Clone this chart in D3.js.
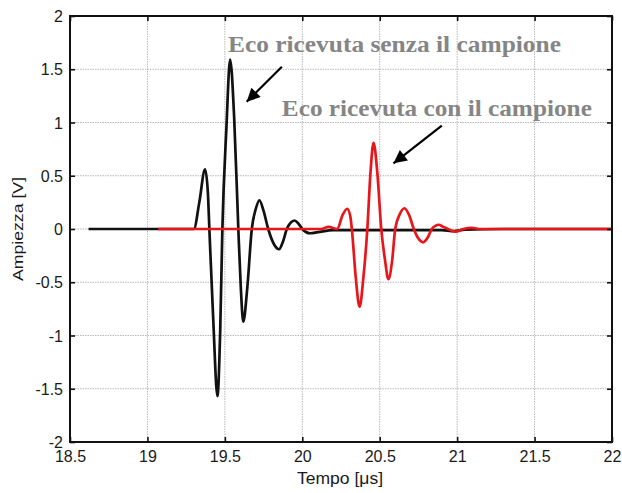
<!DOCTYPE html>
<html>
<head>
<meta charset="utf-8">
<script src="https://cdn.jsdelivr.net/npm/d3@7"></script>
<style>
  html, body { margin: 0; padding: 0; background: #fff; }
  svg { display: block; }
</style>
</head>
<body>
<svg id="chart" width="622" height="493"></svg>
<script>
// Echo waveforms: time in microseconds, amplitude in volts
const echoSenzaTime = [18.62, 19.0, 19.30, 19.335, 19.372, 19.39, 19.40, 19.425, 19.452, 19.47, 19.484, 19.51, 19.534, 19.56, 19.587, 19.603, 19.619, 19.645, 19.674, 19.70, 19.723, 19.75, 19.78, 19.82, 19.85, 19.875, 19.90, 19.925, 19.95, 19.975, 20.0, 20.05, 20.10, 20.2, 20.4, 20.7, 20.9, 20.98, 21.05, 21.3, 22.0];
const echoSenzaAmp  = [0, 0, 0, 0.25, 0.56, 0.35, 0, -0.85, -1.57, -0.95, 0, 0.95, 1.59, 1.05, 0, -0.55, -0.87, -0.55, 0, 0.19, 0.27, 0.17, 0, -0.15, -0.19, -0.12, 0, 0.06, 0.08, 0.05, 0, -0.04, -0.03, -0.01, -0.01, -0.01, -0.01, -0.02, -0.005, 0, 0];

const echoConTime = [19.07, 20.12, 20.17, 20.225, 20.26, 20.29, 20.31, 20.32, 20.345, 20.37, 20.395, 20.42, 20.44, 20.46, 20.485, 20.51, 20.535, 20.556, 20.58, 20.60, 20.63, 20.66, 20.69, 20.72, 20.75, 20.78, 20.81, 20.836, 20.86, 20.88, 20.91, 20.94, 20.99, 21.04, 21.095, 21.15, 22.0];
const echoConAmp  = [0, 0, 0.02, 0, 0.13, 0.19, 0.12, 0, -0.45, -0.73, -0.45, 0, 0.52, 0.81, 0.52, 0, -0.30, -0.47, -0.30, 0, 0.14, 0.195, 0.13, 0, -0.09, -0.125, -0.08, 0, 0.03, 0.04, 0.02, 0, -0.025, 0, 0.01, 0, 0];

const xTicks = [18.5, 19, 19.5, 20, 20.5, 21, 21.5, 22];
const yTicks = [-2, -1.5, -1, -0.5, 0, 0.5, 1, 1.5, 2];

const xLabel = "Tempo [μs]";
const yLabel = "Ampiezza [V]";
const noteSenza = "Eco ricevuta senza il campione";
const noteCon = "Eco ricevuta con il campione";

const svg = d3.select("#chart");
const plotLeft = 70, plotRight = 612, plotTop = 16, plotBottom = 442;

const x = d3.scaleLinear().domain([18.5, 22]).range([plotLeft, plotRight]);
const y = d3.scaleLinear().domain([-2, 2]).range([plotBottom, plotTop]);

// grid
const grid = svg.append("g");
grid.selectAll("line.gx").data(xTicks.slice(1, -1)).join("line")
  .attr("x1", d => x(d)).attr("x2", d => x(d))
  .attr("y1", plotTop).attr("y2", plotBottom)
  .attr("stroke", "#b8b8b8").attr("stroke-width", 1).attr("stroke-dasharray", "1.5,1");
grid.selectAll("line.gy").data(yTicks.slice(1, -1)).join("line")
  .attr("y1", d => y(d)).attr("y2", d => y(d))
  .attr("x1", plotLeft).attr("x2", plotRight)
  .attr("stroke", "#b8b8b8").attr("stroke-width", 1).attr("stroke-dasharray", "1.5,1");

// curves
const line = d3.line().curve(d3.curveMonotoneX)
  .x(d => x(d[0])).y(d => y(d[1]));

svg.append("path")
  .datum(d3.zip(echoSenzaTime, echoSenzaAmp))
  .attr("d", line)
  .attr("fill", "none").attr("stroke", "#111").attr("stroke-width", 2.7)
  .attr("stroke-linejoin", "round");

svg.append("path")
  .datum(d3.zip(echoConTime, echoConAmp))
  .attr("d", line)
  .attr("fill", "none").attr("stroke", "#e8161b").attr("stroke-width", 2.7)
  .attr("stroke-linejoin", "round");

// axes: inward ticks on all four sides
const font = "'Liberation Sans', Arial, sans-serif";
const fmt = d => String(d);
const axB = svg.append("g").attr("transform", `translate(0,${plotBottom})`)
  .call(d3.axisBottom(x).tickValues(xTicks).tickFormat(fmt).tickSizeInner(-5).tickSizeOuter(0).tickPadding(9));
const axL = svg.append("g").attr("transform", `translate(${plotLeft},0)`)
  .call(d3.axisLeft(y).tickValues(yTicks).tickFormat(fmt).tickSizeInner(-5).tickSizeOuter(0).tickPadding(7));
const axT = svg.append("g").attr("transform", `translate(0,${plotTop})`)
  .call(d3.axisTop(x).tickValues(xTicks).tickFormat("").tickSizeInner(-5).tickSizeOuter(0));
const axR = svg.append("g").attr("transform", `translate(${plotRight},0)`)
  .call(d3.axisRight(y).tickValues(yTicks).tickFormat("").tickSizeInner(-5).tickSizeOuter(0));

[axB, axL, axT, axR].forEach(a => {
  a.select(".domain").remove();
  a.selectAll(".tick line").attr("stroke", "#111").attr("stroke-width", 1.6);
  a.selectAll("text").attr("fill", "#1a1a1a").style("font-family", font).style("font-size", "16px");
});
axB.selectAll("text").attr("dy", "0.71em");
axL.selectAll("text").attr("dy", "0.35em");

svg.append("rect")
  .attr("x", plotLeft).attr("y", plotTop).attr("width", plotRight - plotLeft).attr("height", plotBottom - plotTop)
  .attr("fill", "none").attr("stroke", "#111").attr("stroke-width", 2);

// axis titles
svg.append("text")
  .attr("x", 340).attr("y", 484)
  .attr("text-anchor", "middle")
  .attr("textLength", 86).attr("lengthAdjust", "spacingAndGlyphs")
  .style("font-family", font).style("font-size", "16px").attr("fill", "#1a1a1a")
  .text(xLabel);
svg.append("text")
  .attr("transform", `translate(23,229) rotate(-90)`)
  .attr("text-anchor", "middle")
  .attr("textLength", 104).attr("lengthAdjust", "spacingAndGlyphs")
  .style("font-family", font).style("font-size", "15.5px").attr("fill", "#1a1a1a")
  .text(yLabel);

// annotations
svg.append("defs").append("marker")
  .attr("id", "head").attr("viewBox", "0 0 10 10")
  .attr("refX", 10).attr("refY", 5)
  .attr("markerWidth", 7).attr("markerHeight", 6).attr("markerUnits", "strokeWidth")
  .attr("orient", "auto")
  .append("path").attr("d", "M0,0 L10,5 L0,10 Z").attr("fill", "#000");

const notes = [
  { text: noteSenza, width: 333, tx: 19.52, ty: 1.665, ax1: 19.868, ay1: 1.524, ax2: 19.641, ay2: 1.195 },
  { text: noteCon,   width: 310, tx: 19.868, ty: 1.062, ax1: 20.901, ay1: 0.970, ax2: 20.589, ay2: 0.617 }
];
notes.forEach(n => {
  svg.append("text")
    .attr("x", x(n.tx)).attr("y", y(n.ty))
    .attr("textLength", n.width).attr("lengthAdjust", "spacingAndGlyphs")
    .style("font-family", "'Liberation Serif', 'Times New Roman', serif")
    .style("font-weight", "bold").style("font-size", "24px")
    .attr("fill", "#858585")
    .text(n.text);
  svg.append("line")
    .attr("x1", x(n.ax1)).attr("y1", y(n.ay1))
    .attr("x2", x(n.ax2)).attr("y2", y(n.ay2))
    .attr("stroke", "#000").attr("stroke-width", 2.2)
    .attr("marker-end", "url(#head)");
});
</script>
</body>
</html>
